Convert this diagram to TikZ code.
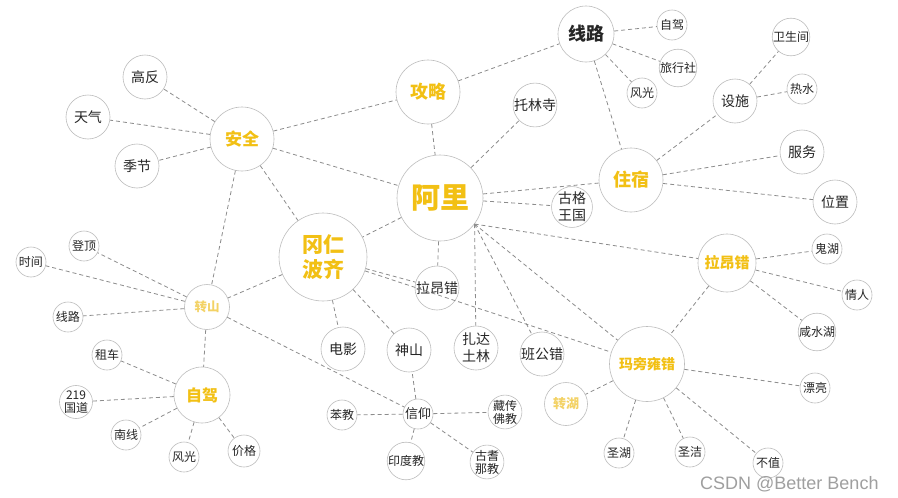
\documentclass[tikz,border=0pt]{standalone}
\usepackage{fontspec}
\setmainfont{Noto Sans CJK SC}
\newfontfamily\markfont{Liberation Sans}
\usepackage{xcolor}
\usetikzlibrary{arrows.meta}
\definecolor{gold}{HTML}{F2C014}
\definecolor{palegold}{HTML}{F3D265}
\definecolor{ring}{HTML}{BDBDBD}
\definecolor{linkgray}{HTML}{8C8C8C}
\definecolor{txt}{HTML}{262626}

\begin{document}
\begin{tikzpicture}[x=1pt,y=-1pt,>=Latex,
  bubble/.style={circle,draw=ring,line width=0.6pt,fill=white,inner sep=0pt,align=center,text=txt},
  hub/.style={bubble,text=gold,font=\bfseries\fontsize{#1}{#1}\selectfont},
  mid/.style={bubble,minimum size=44,font=\fontsize{14}{17}\selectfont},
  leaf/.style={bubble,minimum size=30,font=\fontsize{12}{13}\selectfont},
  link/.style={draw=linkgray,line width=0.8pt,dash pattern=on 4pt off 3pt}]
  \fill[white] (0,0) rectangle (898,498);
  \useasboundingbox (0,0) rectangle (898,498);

  \node[hub=29,minimum size=86] (ali) at (440,198) {阿里};
  \node[hub=18,minimum size=64] (gonglue) at (428,92) {攻略};
  \node[hub=17,minimum size=64] (anquan) at (242,139) {安全};
  \node[hub=18,minimum size=64] (zhusu) at (631,180) {住宿};
  \node[hub=21,minimum size=88] (gangren) at (323,257) {冈仁\\[4pt]波齐};
  \node[hub=15,minimum size=58] (lang) at (727,263) {拉昂错};
  \node[hub=14,minimum size=75] (mapang) at (647,364) {玛旁雍错};
  \node[hub=16,minimum size=56] (zijia) at (202,395) {自驾};
  \node[hub=12.5,minimum size=45,text=palegold] (zhuanshan) at (207,307) {转山};
  \node[hub=13,minimum size=43,text=palegold] (zhuanhu) at (566,404) {转湖};

  \node[mid,minimum size=56,font=\bfseries\fontsize{18}{18}\selectfont] (xianlu) at (586,34) {线路};
  \node[mid,minimum size=36] (tolin) at (535,105) {托林寺};
  \node[mid] (sheshi) at (735,101) {设施};
  \node[mid] (fuwu) at (802,152) {服务};
  \node[mid] (weizhi) at (835,202) {位置};
  \node[mid,minimum size=38] (guge) at (572,207) {古格\\王国};
  \node[mid] (gaofan) at (145,77) {高反};
  \node[mid] (tianqi) at (88,117) {天气};
  \node[mid] (jijie) at (137,166) {季节};
  \node[mid] (laang) at (437,288) {拉昂错};
  \node[mid] (dianying) at (343,349) {电影};
  \node[mid] (shenshan) at (409,350) {神山};
  \node[mid] (zhada) at (476,348) {扎达\\土林};
  \node[mid] (bangong) at (542,354) {班公错};

  \node[leaf] (zijiatop) at (672,25) {自驾};
  \node[leaf] (lvxing) at (678,68) {旅行社};
  \node[leaf] (fengtop) at (642,93) {风光};
  \node[leaf,minimum size=32] (weisheng) at (791,37) {卫生间};
  \node[leaf] (reshui) at (802,89) {热水};
  \node[leaf] (dengding) at (84,246) {登顶};
  \node[leaf] (shijian) at (31,262) {时间};
  \node[leaf] (xianluleft) at (68,317) {线路};
  \node[leaf] (zuche) at (107,355) {租车};
  \node[leaf,minimum size=32] (guodao) at (76,402) {219\\国道};
  \node[leaf] (nanxian) at (126,435) {南线};
  \node[leaf] (fengbot) at (184,457) {风光};
  \node[leaf,minimum size=32] (jiage) at (244,451) {价格};
  \node[leaf,font=\fontsize{13}{13}\selectfont] (xinyang) at (418,414) {信仰};
  \node[leaf] (benjiao) at (342,415) {苯教};
  \node[leaf] (yindu) at (406,461) {印度教};
  \node[leaf] (zangchuan) at (505,412) {藏传\\佛教};
  \node[leaf,minimum size=32] (qina) at (487,462) {古耆\\那教};
  \node[leaf] (guihu) at (827,249) {鬼湖};
  \node[leaf] (qingren) at (857,295) {情人};
  \node[leaf] (xianshui) at (817,332) {咸水湖};
  \node[leaf] (piaoliang) at (815,388) {漂亮};
  \node[leaf] (shenghu) at (619,453) {圣湖};
  \node[leaf] (shengjie) at (690,452) {圣洁};
  \node[leaf] (buzhi) at (768,463) {不值};

  \coordinate (meet) at (ali.-37);

  \foreach \a/\b in {anquan/gaofan,anquan/tianqi,anquan/jijie,anquan/gonglue,anquan/ali,
    anquan/zhuanshan,anquan/gangren,gonglue/xianlu,gonglue/ali,
    xianlu/zijiatop,xianlu/lvxing,xianlu/fengtop,xianlu/zhusu,
    ali/tolin,ali/zhusu,ali/guge,ali/gangren,ali/laang,
    zhusu/sheshi,zhusu/fuwu,zhusu/weizhi,sheshi/weisheng,sheshi/reshui,
    gangren/laang,gangren/dianying,gangren/shenshan,gangren/zhuanshan,gangren/mapang,
    zhuanshan/dengding,zhuanshan/shijian,zhuanshan/xianluleft,zhuanshan/zijia,zhuanshan/xinyang,
    zijia/zuche,zijia/guodao,zijia/nanxian,zijia/fengbot,zijia/jiage,
    xinyang/shenshan,xinyang/benjiao,xinyang/zangchuan,xinyang/yindu,xinyang/qina,
    lang/guihu,lang/qingren,lang/xianshui,lang/mapang,
    mapang/piaoliang,mapang/zhuanhu,mapang/shenghu,mapang/shengjie,mapang/buzhi}
    \draw[link] (\a) -- (\b);
  \foreach \b in {lang,zhada,bangong,mapang}
    \draw[link] (meet) -- (\b);

  \node[anchor=base west,inner sep=0pt,text=gray!75,font=\markfont\fontsize{18}{18}\selectfont] (mark) at (700,489) {CSDN @Better Bench};
\end{tikzpicture}
\end{document}
